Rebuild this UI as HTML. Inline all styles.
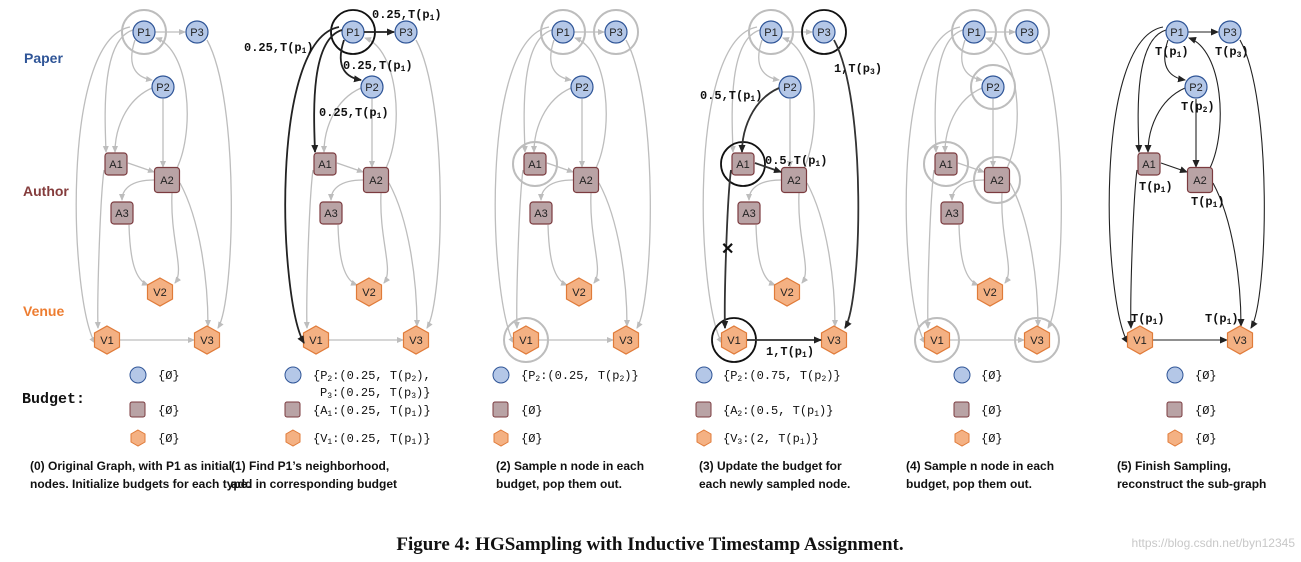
<!DOCTYPE html>
<html><head><meta charset="utf-8"><style>
body{margin:0;background:#fff;}
svg{display:block;}
.lbl{font-family:"Liberation Mono",monospace;font-weight:bold;font-size:12px;fill:#111;}
.nt{font-family:"Liberation Sans",sans-serif;font-size:11px;fill:#222;text-anchor:middle;}
.cap{font-family:"Liberation Sans",sans-serif;font-weight:bold;font-size:12px;fill:#111;}
.bud{font-family:"Liberation Mono",monospace;font-size:12px;fill:#111;}
</style></head><body>
<svg width="1301" height="562" viewBox="0 0 1301 562" xmlns="http://www.w3.org/2000/svg">
<defs>
<marker id="ag" markerWidth="8" markerHeight="8" refX="6" refY="3" orient="auto" markerUnits="userSpaceOnUse"><path d="M0,0 L7,3 L0,6z" fill="#bdbdbd"/></marker>
<marker id="ab" markerWidth="10" markerHeight="10" refX="7" refY="3.5" orient="auto" markerUnits="userSpaceOnUse"><path d="M0,0 L8,3.5 L0,7z" fill="#222"/></marker>
<g id="edges" fill="none" stroke="#bdbdbd" stroke-width="1.3">
<path d="M155,32 L185,32" marker-end="url(#ag)"/>
<path d="M135,40 C125,70 140,78 152,80" marker-end="url(#ag)"/>
<path d="M152,88 C125,100 115,130 115,152" marker-end="url(#ag)"/>
<path d="M163,99 L163,167" marker-end="url(#ag)"/>
<path d="M177,168 C195,130 190,50 156,38" marker-end="url(#ag)"/>
<path d="M133,30 C100,40 105,120 106,152" marker-end="url(#ag)"/>
<path d="M130,27 C60,40 70,300 95,343" marker-end="url(#ag)"/>
<path d="M104,170 C100,200 97,300 98,328" marker-end="url(#ag)"/>
<path d="M128,163 L154,172" marker-end="url(#ag)"/>
<path d="M154,180 C130,180 122,190 122,200" marker-end="url(#ag)"/>
<path d="M129,225 C130,260 135,280 148,285" marker-end="url(#ag)"/>
<path d="M172,193 C170,240 185,270 175,283" marker-end="url(#ag)"/>
<path d="M180,183 C200,220 208,280 208,326" marker-end="url(#ag)"/>
<path d="M207,40 C240,100 235,300 218,328" marker-end="url(#ag)"/>
<path d="M120,340 L194,340" marker-end="url(#ag)"/>
</g>
<g id="pn"><circle r="11" fill="#b4c7e7" stroke="#2f5597" stroke-width="1.2"/></g>
<g id="an"><rect x="-11" y="-11" width="22" height="22" rx="3" fill="#b9a3a5" stroke="#7b3b3f" stroke-width="1.2"/></g>
<g id="an2"><rect x="-12.5" y="-12.5" width="25" height="25" rx="3" fill="#b9a3a5" stroke="#7b3b3f" stroke-width="1.2"/></g>
<g id="vn"><path d="M0,-14 L12.5,-7 L12.5,7 L0,14 L-12.5,7 L-12.5,-7z" fill="#f4b183" stroke="#e07b39" stroke-width="1.2"/></g>
<g id="nodes">
<use href="#pn" x="144" y="32"/><text class="nt" x="144" y="36">P1</text>
<use href="#pn" x="197" y="32"/><text class="nt" x="197" y="36">P3</text>
<use href="#pn" x="163" y="87"/><text class="nt" x="163" y="91">P2</text>
<use href="#an" x="116" y="164"/><text class="nt" x="116" y="168">A1</text>
<use href="#an2" x="167" y="180"/><text class="nt" x="167" y="184">A2</text>
<use href="#an" x="122" y="213"/><text class="nt" x="122" y="217">A3</text>
<use href="#vn" x="160" y="292"/><text class="nt" x="160" y="296">V2</text>
<use href="#vn" x="107" y="340"/><text class="nt" x="107" y="344">V1</text>
<use href="#vn" x="207" y="340"/><text class="nt" x="207" y="344">V3</text>
</g>
<g id="graph"><use href="#edges"/><use href="#nodes"/></g>
</defs>

<text x="24" y="63" font-family="Liberation Sans,sans-serif" font-weight="bold" font-size="14" fill="#2f5597">Paper</text>
<text x="23" y="196" font-family="Liberation Sans,sans-serif" font-weight="bold" font-size="14" fill="#843c3c">Author</text>
<text x="23" y="316" font-family="Liberation Sans,sans-serif" font-weight="bold" font-size="14" fill="#ed7d31">Venue</text>
<text x="22" y="403" font-family="Liberation Mono,monospace" font-weight="bold" font-size="15" fill="#111">Budget:</text>

<!-- Panel 0 -->
<use href="#graph"/>
<circle cx="144" cy="32" r="22" fill="none" stroke="#bdbdbd" stroke-width="2"/>

<!-- Panel 1 -->
<g transform="translate(209,0)">
<use href="#graph"/>
<circle cx="144" cy="32" r="22" fill="none" stroke="#111" stroke-width="1.8"/>
<g fill="none" stroke="#222" stroke-width="1.8">
<path d="M155,32 L185,32" marker-end="url(#ab)"/>
<path d="M135,40 C125,70 140,78 152,80" marker-end="url(#ab)"/>
<path d="M133,30 C100,40 105,120 106,152" marker-end="url(#ab)"/>
<path d="M130,27 C60,40 70,300 95,343" marker-end="url(#ab)"/>
</g>
<text class="lbl" x="163" y="18">0.25,T(p<tspan font-size="8" dy="2">1</tspan><tspan dy="-2">)</tspan></text>
<text class="lbl" x="35" y="51">0.25,T(p<tspan font-size="8" dy="2">1</tspan><tspan dy="-2">)</tspan></text>
<text class="lbl" x="134" y="69">0.25,T(p<tspan font-size="8" dy="2">1</tspan><tspan dy="-2">)</tspan></text>
<text class="lbl" x="110" y="116">0.25,T(p<tspan font-size="8" dy="2">1</tspan><tspan dy="-2">)</tspan></text>
</g>

<!-- Panel 2 -->
<g transform="translate(419,0)">
<use href="#graph"/>
<g fill="none" stroke="#bdbdbd" stroke-width="2">
<circle cx="144" cy="32" r="22"/><circle cx="197" cy="32" r="22"/>
<circle cx="116" cy="164" r="22"/><circle cx="107" cy="340" r="22"/>
</g>
</g>

<!-- Panel 3 -->
<g transform="translate(627,0)">
<use href="#graph"/>
<circle cx="144" cy="32" r="22" fill="none" stroke="#bdbdbd" stroke-width="2"/>
<g fill="none" stroke="#111" stroke-width="1.8">
<circle cx="197" cy="32" r="22"/><circle cx="116" cy="164" r="22"/><circle cx="107" cy="340" r="22"/>
</g>
<g fill="none" stroke="#333" stroke-width="1.8">
<path d="M152,88 C125,100 115,130 115,152" marker-end="url(#ab)"/>
<path d="M128,163 L154,172" marker-end="url(#ab)"/>
<path d="M104,170 C100,200 97,300 98,328" marker-end="url(#ab)"/>
<path d="M120,340 L194,340" marker-end="url(#ab)"/>
<path d="M207,40 C240,100 235,300 218,328" marker-end="url(#ab)"/>
</g>
<text x="94" y="254" font-family="Liberation Sans,sans-serif" font-weight="bold" font-size="16" fill="#111">✕</text>
<text class="lbl" x="73" y="99">0.5,T(p<tspan font-size="8" dy="2">1</tspan><tspan dy="-2">)</tspan></text>
<text class="lbl" x="138" y="164">0.5,T(p<tspan font-size="8" dy="2">1</tspan><tspan dy="-2">)</tspan></text>
<text class="lbl" x="207" y="72">1,T(p<tspan font-size="8" dy="2">3</tspan><tspan dy="-2">)</tspan></text>
<text class="lbl" x="139" y="355">1,T(p<tspan font-size="8" dy="2">1</tspan><tspan dy="-2">)</tspan></text>
</g>

<!-- Panel 4 -->
<g transform="translate(830,0)">
<use href="#graph"/>
<g fill="none" stroke="#bdbdbd" stroke-width="2">
<circle cx="144" cy="32" r="22"/><circle cx="197" cy="32" r="22"/><circle cx="163" cy="87" r="22"/>
<circle cx="116" cy="164" r="22"/><circle cx="167" cy="180" r="23"/>
<circle cx="107" cy="340" r="22"/><circle cx="207" cy="340" r="22"/>
</g>
</g>

<!-- Panel 5 -->
<g transform="translate(1033,0)">
<g fill="none" stroke="#222" stroke-width="1.1">
<path d="M155,32 L185,32" marker-end="url(#ab)"/>
<path d="M135,40 C125,70 140,78 152,80" marker-end="url(#ab)"/>
<path d="M152,88 C125,100 115,130 115,152" marker-end="url(#ab)"/>
<path d="M163,99 L163,167" marker-end="url(#ab)"/>
<path d="M177,168 C195,130 190,50 156,38" marker-end="url(#ab)"/>
<path d="M133,30 C100,40 105,120 106,152" marker-end="url(#ab)"/>
<path d="M130,27 C60,40 70,300 95,343" marker-end="url(#ab)"/>
<path d="M104,170 C100,200 97,300 98,328" marker-end="url(#ab)"/>
<path d="M128,163 L154,172" marker-end="url(#ab)"/>
<path d="M180,183 C200,220 208,280 208,326" marker-end="url(#ab)"/>
<path d="M207,40 C240,100 235,300 218,328" marker-end="url(#ab)"/>
<path d="M120,340 L194,340" marker-end="url(#ab)"/>
</g>
<use href="#pn" x="144" y="32"/><text class="nt" x="144" y="36">P1</text>
<use href="#pn" x="197" y="32"/><text class="nt" x="197" y="36">P3</text>
<use href="#pn" x="163" y="87"/><text class="nt" x="163" y="91">P2</text>
<use href="#an" x="116" y="164"/><text class="nt" x="116" y="168">A1</text>
<use href="#an2" x="167" y="180"/><text class="nt" x="167" y="184">A2</text>
<use href="#vn" x="107" y="340"/><text class="nt" x="107" y="344">V1</text>
<use href="#vn" x="207" y="340"/><text class="nt" x="207" y="344">V3</text>
<g class="lbl">
<text class="lbl" x="122" y="55">T(p<tspan font-size="8" dy="2">1</tspan><tspan dy="-2">)</tspan></text>
<text class="lbl" x="182" y="55">T(p<tspan font-size="8" dy="2">3</tspan><tspan dy="-2">)</tspan></text>
<text class="lbl" x="148" y="110">T(p<tspan font-size="8" dy="2">2</tspan><tspan dy="-2">)</tspan></text>
<text class="lbl" x="106" y="190">T(p<tspan font-size="8" dy="2">1</tspan><tspan dy="-2">)</tspan></text>
<text class="lbl" x="158" y="205">T(p<tspan font-size="8" dy="2">1</tspan><tspan dy="-2">)</tspan></text>
<text class="lbl" x="98" y="322">T(p<tspan font-size="8" dy="2">1</tspan><tspan dy="-2">)</tspan></text>
<text class="lbl" x="172" y="322">T(p<tspan font-size="8" dy="2">1</tspan><tspan dy="-2">)</tspan></text>
</g>
</g>

<!-- Budgets -->
<g id="bicons">
<circle cx="138" cy="375" r="8" fill="#b4c7e7" stroke="#2f5597" stroke-width="1"/>
<rect x="130" y="402" width="15" height="15" rx="2" fill="#b9a3a5" stroke="#7b3b3f"/>
<path d="M138,430 L145,434 L145,442 L138,446 L131,442 L131,434z" fill="#f4b183" stroke="#e07b39"/>
</g>
<use href="#bicons" x="155"/><use href="#bicons" x="363"/><use href="#bicons" x="566"/><use href="#bicons" x="824"/><use href="#bicons" x="1037"/>
<g class="bud">
<text x="158" y="379">{Ø}</text><text x="158" y="414">{Ø}</text><text x="158" y="442">{Ø}</text>
<text x="313" y="379">{P<tspan font-size="8" dy="2">2</tspan><tspan dy="-2">:(0.25, T(p</tspan><tspan font-size="8" dy="2">2</tspan><tspan dy="-2">),</tspan></text>
<text x="320" y="396">P<tspan font-size="8" dy="2">3</tspan><tspan dy="-2">:(0.25, T(p</tspan><tspan font-size="8" dy="2">3</tspan><tspan dy="-2">)}</tspan></text>
<text x="313" y="414">{A<tspan font-size="8" dy="2">1</tspan><tspan dy="-2">:(0.25, T(p</tspan><tspan font-size="8" dy="2">1</tspan><tspan dy="-2">)}</tspan></text>
<text x="313" y="442">{V<tspan font-size="8" dy="2">1</tspan><tspan dy="-2">:(0.25, T(p</tspan><tspan font-size="8" dy="2">1</tspan><tspan dy="-2">)}</tspan></text>
<text x="521" y="379">{P<tspan font-size="8" dy="2">2</tspan><tspan dy="-2">:(0.25, T(p</tspan><tspan font-size="8" dy="2">2</tspan><tspan dy="-2">)}</tspan></text>
<text x="521" y="414">{Ø}</text><text x="521" y="442">{Ø}</text>
<text x="723" y="379">{P<tspan font-size="8" dy="2">2</tspan><tspan dy="-2">:(0.75, T(p</tspan><tspan font-size="8" dy="2">2</tspan><tspan dy="-2">)}</tspan></text>
<text x="723" y="414">{A<tspan font-size="8" dy="2">2</tspan><tspan dy="-2">:(0.5,  T(p</tspan><tspan font-size="8" dy="2">1</tspan><tspan dy="-2">)}</tspan></text>
<text x="723" y="442">{V<tspan font-size="8" dy="2">3</tspan><tspan dy="-2">:(2,    T(p</tspan><tspan font-size="8" dy="2">1</tspan><tspan dy="-2">)}</tspan></text>
<text x="981" y="379">{Ø}</text><text x="981" y="414">{Ø}</text><text x="981" y="442">{Ø}</text>
<text x="1195" y="379">{Ø}</text><text x="1195" y="414">{Ø}</text><text x="1195" y="442">{Ø}</text>
</g>

<g class="cap">
<text x="30" y="470">(0) Original Graph, with  P1 as initial</text>
<text x="30" y="488">nodes. Initialize budgets for each type.</text>
<text x="231" y="470">(1) Find P1’s neighborhood,</text>
<text x="231" y="488">add in corresponding budget</text>
<text x="496" y="470">(2) Sample n node in each</text>
<text x="496" y="488">budget, pop them out.</text>
<text x="699" y="470">(3) Update the budget for</text>
<text x="699" y="488">each newly sampled node.</text>
<text x="906" y="470">(4) Sample n node in each</text>
<text x="906" y="488">budget, pop them out.</text>
<text x="1117" y="470">(5) Finish Sampling,</text>
<text x="1117" y="488">reconstruct the sub-graph</text>
</g>

<text x="650" y="550" text-anchor="middle" font-family="Liberation Serif,serif" font-weight="bold" font-size="19" fill="#111">Figure 4: HGSampling with Inductive Timestamp Assignment.</text>
<text x="1295" y="547" text-anchor="end" font-family="Liberation Sans,sans-serif" font-size="12" fill="#c8c8c8">https://blog.csdn.net/byn12345</text>
</svg>
</body></html>
